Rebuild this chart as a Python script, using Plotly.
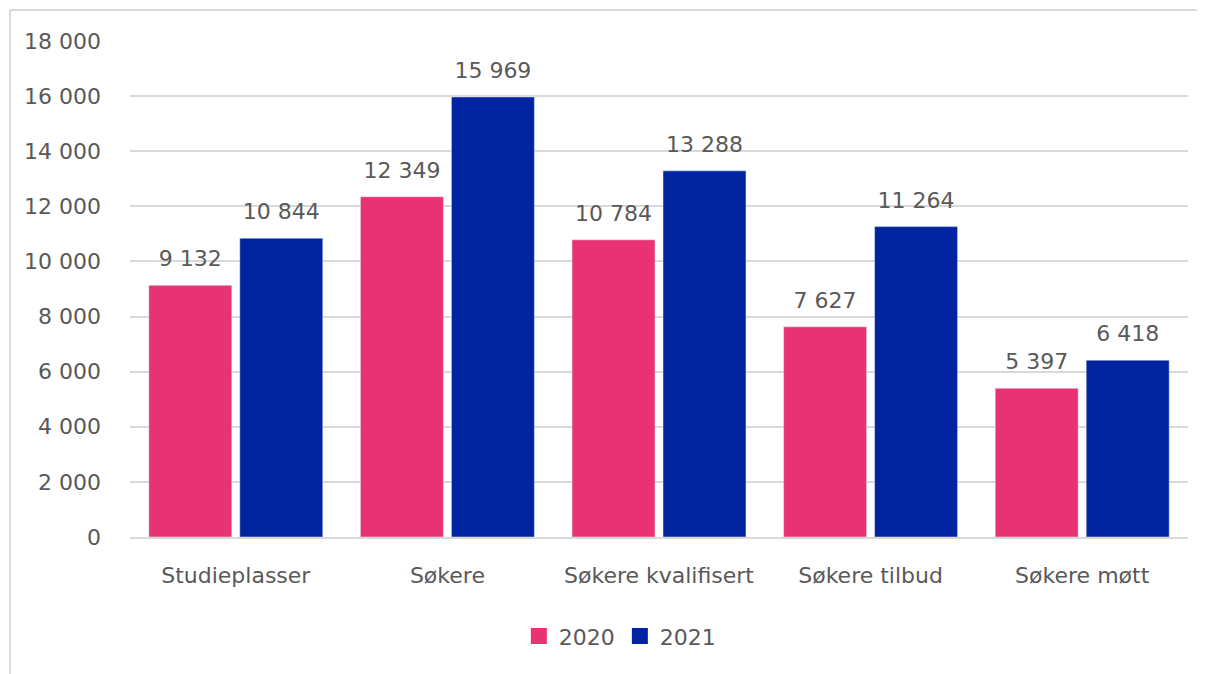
import plotly.graph_objects as go

categories = ["Studieplasser", "Søkere", "Søkere kvalifisert", "Søkere tilbud", "Søkere møtt"]
values_2020 = [9132, 12349, 10784, 7627, 5397]
values_2021 = [10844, 15969, 13288, 11264, 6418]
y_ticks = [0, 2000, 4000, 6000, 8000, 10000, 12000, 14000, 16000, 18000]

FONT = "DejaVu Sans, sans-serif"
GRAY = "#595959"
FS = 22
PINK = "#E83273"
BLUE = "#0023A0"

fig = go.Figure()
for name, vals, col in [("2020", values_2020, PINK), ("2021", values_2021, BLUE)]:
    fig.add_trace(go.Bar(name=name, x=categories, y=vals, marker_color=col,
                         offsetgroup=name, showlegend=False))
for name, vals in [("2020", values_2020), ("2021", values_2021)]:
    fig.add_trace(go.Scatter(x=categories, y=vals, mode="markers+text", offsetgroup=name,
                             marker=dict(size=20, opacity=0), texttemplate="%{y:,}",
                             textposition="top center", showlegend=False, hoverinfo="skip",
                             textfont=dict(color=GRAY, size=FS, family=FONT), cliponaxis=False))
# legend entries
for name, col in [("2020", PINK), ("2021", BLUE)]:
    fig.add_trace(go.Scatter(x=[categories[0]], y=[None], mode="markers", name=name,
                             marker=dict(symbol="square", size=20, color=col)))

fig.update_layout(
    width=1197, height=666,
    margin=dict(l=122, r=17, t=33, b=137),
    paper_bgcolor="white", plot_bgcolor="white",
    separators=", ",
    barmode="group", bargap=0.14, bargroupgap=0.088,
    scattermode="group", scattergap=0.14,
    font=dict(family=FONT, color=GRAY, size=FS),
    showlegend=True,
    legend=dict(orientation="h", x=0.463, xanchor="center", y=-0.2, yanchor="middle",
                font=dict(size=FS, color=GRAY), itemsizing="trace", itemwidth=30,
                traceorder="normal"),
    xaxis=dict(showgrid=False, showline=True, linecolor="#d9d9d9", linewidth=1.5,
               ticks="", ticklabelstandoff=18, tickfont=dict(size=FS, color=GRAY)),
    yaxis=dict(range=[0, 18000], tickvals=y_ticks, tickformat=",", showgrid=True,
               gridcolor="#d9d9d9", gridwidth=1.5, zeroline=False, ticks="",
               ticklabelstandoff=28, tickfont=dict(size=FS, color=GRAY)),
)

# chart border (left and top visible)
fig.add_shape(type="line", xref="paper", yref="paper", x0=-0.1134, x1=-0.1134, y0=1.0625, y1=-0.4,
              line=dict(color="#d9d9d9", width=2))
fig.add_shape(type="line", xref="paper", yref="paper", x0=-0.1134, x1=1.1, y0=1.0625, y1=1.0625,
              line=dict(color="#d9d9d9", width=2))

fig.write_html("out.html")
